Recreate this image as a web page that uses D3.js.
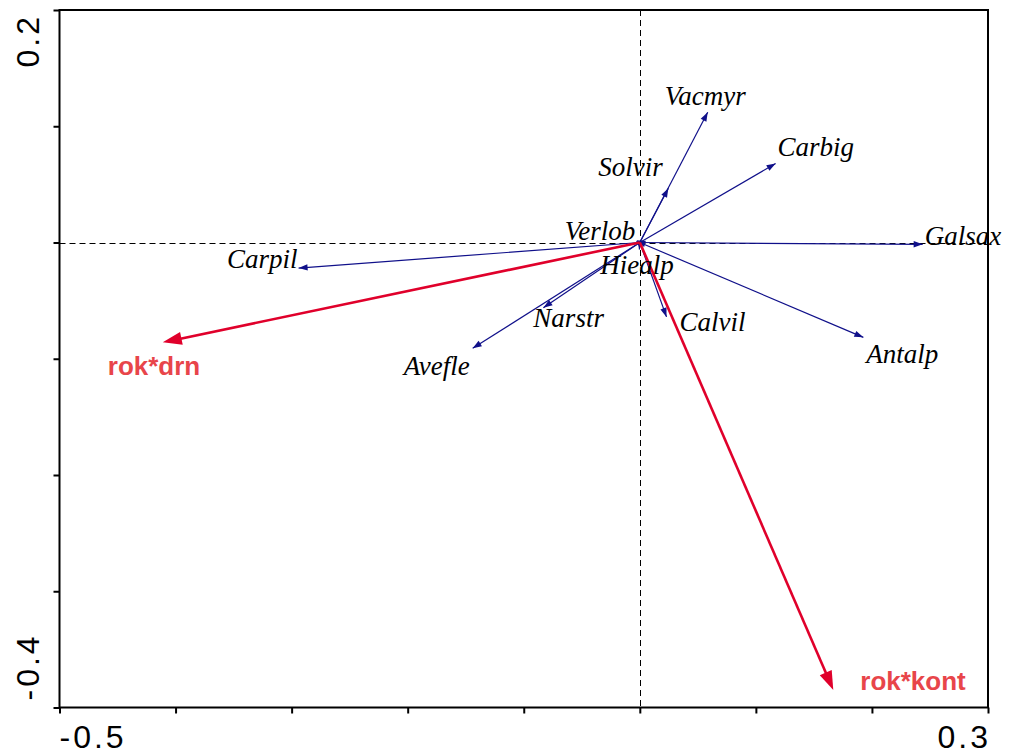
<!DOCTYPE html>
<html>
<head>
<meta charset="utf-8">
<script src="https://cdn.jsdelivr.net/npm/d3@7"></script>
<style>
  html, body { margin: 0; padding: 0; background: #fff; }
  svg { display: block; }
</style>
</head>
<body>
<svg id="chart" width="1009" height="756"></svg>
<script>
// Species vectors (axis 1, axis 2 scores)
const species = ["Vacmyr", "Carbig", "Solvir", "Verlob", "Hiealp", "Galsax", "Antalp", "Calvil", "Carpil", "Narstr", "Avefle"];
const speciesX = [0.0585, 0.117, 0.0246, -0.003, -0.0004, 0.2437, 0.1926, 0.023, -0.294, -0.0831, -0.144];
const speciesY = [0.112, 0.068, 0.0466, 0.0008, -0.006, -0.0016, -0.0816, -0.064, -0.022, -0.0561, -0.091];

// Explanatory (interaction) variables
const envNames = ["rok*drn", "rok*kont"];
const envX = [-0.411, 0.1667];
const envY = [-0.0859, -0.385];

// Axis extent and tick labels
const xDomain = [-0.5, 0.3];
const yDomain = [-0.4, 0.2];
const xTicks = [-0.5, -0.4, -0.3, -0.2, -0.1, 0, 0.1, 0.2, 0.3];
const yTicks = [-0.4, -0.3, -0.2, -0.1, 0, 0.1, 0.2];
const xTickLabels = ["-0.5", "0.3"];
const yTickLabels = ["-0.4", "0.2"];

// Label placement relative to arrow tips (px): dx, dy, anchor
const speciesLabelPos = {
  Vacmyr: [-43, -7, "start"],
  Carbig: [2, -7, "start"],
  Solvir: [-70, -12, "start"],
  Verlob: [-1, -2, "end"],
  Hiealp: [-39, 25, "start"],
  Galsax: [2, 1, "start"],
  Antalp: [3, 26, "start"],
  Calvil: [13, 14, "start"],
  Carpil: [-1, 0, "end"],
  Narstr: [-10, 19, "start"],
  Avefle: [-3, 27, "end"]
};
const envLabelPos = {
  "rok*drn": [-55, 33, "start"],
  "rok*kont": [27, 0, "start"]
};

const svg = d3.select("#chart");
const plotL = 59.5, plotR = 988, plotT = 10, plotB = 707.5;

const x = d3.scaleLinear().domain(xDomain).range([plotL, plotR]);
const y = d3.scaleLinear().domain(yDomain).range([plotB, plotT]);

// Axes: ticks only, pointing outward
const gx = svg.append("g").attr("transform", `translate(0,${plotB})`)
  .call(d3.axisBottom(x).tickValues(xTicks).tickSize(6).tickSizeOuter(0).tickFormat(""));
const gy = svg.append("g").attr("transform", `translate(${plotL},0)`)
  .call(d3.axisLeft(y).tickValues(yTicks).tickSize(6).tickSizeOuter(0).tickFormat(""));
[gx, gy].forEach(g => {
  g.select(".domain").remove();
  g.selectAll(".tick line").attr("stroke", "#000").attr("stroke-width", 2);
});

// Frame
svg.append("rect")
  .attr("x", plotL).attr("y", plotT)
  .attr("width", plotR - plotL).attr("height", plotB - plotT)
  .attr("fill", "none").attr("stroke", "#000").attr("stroke-width", 2);

// Zero reference lines (snapped to the pixel grid)
const zx = Math.round(x(0)) + 0.5, zy = Math.round(y(0)) + 0.5;
svg.append("line")
  .attr("x1", plotL).attr("x2", plotR).attr("y1", zy).attr("y2", zy)
  .attr("stroke", "#000").attr("stroke-width", 1).attr("stroke-dasharray", "6,4");
svg.append("line")
  .attr("x1", zx).attr("x2", zx).attr("y1", plotT).attr("y2", plotB)
  .attr("stroke", "#000").attr("stroke-width", 1).attr("stroke-dasharray", "6,4");

// Tick labels at the axis ends
const tickFont = "'Liberation Sans', Arial, Helvetica, sans-serif";
const tl = svg.append("g")
  .attr("font-family", tickFont).attr("font-size", 32)
  .attr("letter-spacing", 3).attr("fill", "#000");
tl.append("text").attr("x", x(xDomain[0])).attr("y", 748)
  .attr("text-anchor", "start").text(xTickLabels[0]);
tl.append("text").attr("x", x(xDomain[1]) + 3).attr("y", 748)
  .attr("text-anchor", "end").text(xTickLabels[1]);
tl.append("text").attr("transform", `translate(39,${y(yDomain[0]) - 7}) rotate(-90)`)
  .attr("text-anchor", "start").text(yTickLabels[0]);
tl.append("text").attr("transform", `translate(39,${y(yDomain[1]) + 4}) rotate(-90)`)
  .attr("text-anchor", "end").text(yTickLabels[1]);

// Arrow drawing helper: filled head ending at the tip
function arrowHead(x1, y1, x2, y2, len, half) {
  const a = Math.atan2(y2 - y1, x2 - x1);
  const bx = x2 - len * Math.cos(a), by = y2 - len * Math.sin(a);
  const px = -Math.sin(a) * half, py = Math.cos(a) * half;
  return `M${x2},${y2}L${bx + px},${by + py}L${bx - px},${by - py}Z`;
}

const spData = species.map((n, i) => ({ name: n, vx: speciesX[i], vy: speciesY[i] }));
const envData = envNames.map((n, i) => ({ name: n, vx: envX[i], vy: envY[i] }));

const blue = "#10108a";
const red = "#e0002b";

// Species arrows
const sp = svg.append("g");
sp.selectAll("line").data(spData).join("line")
  .attr("x1", x(0)).attr("y1", y(0))
  .attr("x2", d => x(d.vx)).attr("y2", d => y(d.vy))
  .attr("stroke", blue).attr("stroke-width", 1.2);

// Environmental arrows
const ev = svg.append("g");
ev.selectAll("line").data(envData).join("line")
  .attr("x1", x(0)).attr("y1", y(0))
  .attr("x2", d => {
    const a = Math.atan2(y(d.vy) - y(0), x(d.vx) - x(0));
    return x(d.vx) - 12 * Math.cos(a);
  })
  .attr("y2", d => {
    const a = Math.atan2(y(d.vy) - y(0), x(d.vx) - x(0));
    return y(d.vy) - 12 * Math.sin(a);
  })
  .attr("stroke", red).attr("stroke-width", 2.6);
ev.selectAll("path").data(envData).join("path")
  .attr("d", d => arrowHead(x(0), y(0), x(d.vx), y(d.vy), 19, 6.5))
  .attr("fill", red);

// Species arrowheads on top
sp.selectAll("path").data(spData).join("path")
  .attr("d", d => arrowHead(x(0), y(0), x(d.vx), y(d.vy), 9, 3.2))
  .attr("fill", blue);

// Species labels
svg.append("g").selectAll("text").data(spData).join("text")
  .attr("x", d => x(d.vx) + speciesLabelPos[d.name][0])
  .attr("y", d => y(d.vy) + speciesLabelPos[d.name][1])
  .attr("text-anchor", d => speciesLabelPos[d.name][2])
  .attr("font-family", "'Liberation Serif', 'Times New Roman', serif")
  .attr("font-style", "italic")
  .attr("font-size", 27)
  .attr("fill", "#000")
  .text(d => d.name);

// Environmental labels
svg.append("g").selectAll("text").data(envData).join("text")
  .attr("x", d => x(d.vx) + envLabelPos[d.name][0])
  .attr("y", d => y(d.vy) + envLabelPos[d.name][1])
  .attr("text-anchor", d => envLabelPos[d.name][2])
  .attr("font-family", "'Liberation Sans', Arial, Helvetica, sans-serif")
  .attr("font-weight", "bold")
  .attr("font-size", 26)
  .attr("fill", "#e8454a")
  .text(d => d.name);
</script>
</body>
</html>
